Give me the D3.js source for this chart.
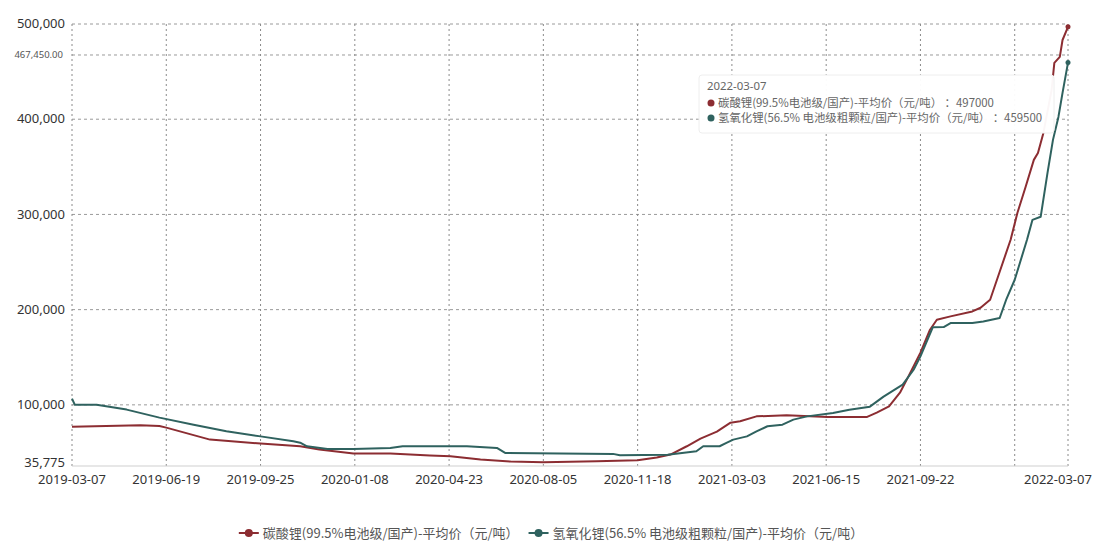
<!DOCTYPE html>
<html>
<head>
<meta charset="utf-8">
<script src="https://cdn.jsdelivr.net/npm/d3@7"></script>
<style>
  body { margin: 0; background: #fff; }
  text { font-family: "Noto Sans", "Noto Sans CJK SC", sans-serif; }
</style>
</head>
<body>
<div id="chart"></div>
<script>
// trading-day index along the category axis (0 = 2019-03-07, 729 = 2022-03-07)
const xTickIndex = [0, 69, 138, 207, 276, 345, 414, 483, 552, 621, 690, 729];
const xTickLabels = ["2019-03-07", "2019-06-19", "2019-09-25", "2020-01-08", "2020-04-23",
  "2020-08-05", "2020-11-18", "2021-03-03", "2021-06-15", "2021-09-22", "", "2022-03-07"];
const yTicks = [35775, 100000, 200000, 300000, 400000, 500000];

const seriesNames = ["碳酸锂(99.5%电池级/国产)-平均价（元/吨）", "氢氧化锂(56.5% 电池级粗颗粒/国产)-平均价（元/吨）"];
const seriesColors = ["#8c2d32", "#2f625f"];

const carbonateDay = [0, 50, 64, 69, 101, 138, 167, 181, 206, 233, 262, 277, 299, 321, 345, 384, 414, 428, 438, 450,
  460, 472, 482, 489, 501, 523, 553, 582, 589, 598, 606, 611, 621, 628, 633, 643, 659, 665, 672, 679,
  687, 692, 698, 704, 707, 711, 717, 719, 723, 725, 729];
const carbonateValue = [77100, 78600, 77700, 76100, 63500, 59300, 56500, 53000, 48800, 48800, 46700, 46000, 42500, 40400, 39700, 40700, 41800, 44600, 47800, 56500,
  64500, 71900, 81300, 82700, 87900, 89000, 87300, 87300, 91800, 98400, 112800, 126500, 154800, 178900, 189400, 192900, 198100, 202000, 210400, 239800,
  273400, 301700, 329000, 357300, 364600, 385600, 430700, 459100, 465400, 483200, 497000];

const hydroxideDay = [0, 2, 18, 40, 64, 89, 113, 138, 162, 167, 172, 187, 206, 233, 242, 289, 311, 317, 396, 401,
  436, 457, 462, 474, 479, 484, 494, 501, 509, 520, 528, 538, 557, 569, 584, 594, 608, 616, 621, 630,
  638, 643, 659, 667, 679, 684, 690, 699, 703, 709, 714, 718, 722, 725, 729];
const hydroxideValue = [106500, 100200, 100200, 95000, 86600, 79200, 72200, 66900, 61700, 60300, 56500, 53700, 53700, 54800, 56500, 56500, 54800, 49500, 48500, 47000,
  47700, 51200, 56500, 56500, 60000, 63500, 66900, 72200, 77500, 79200, 84500, 87900, 91500, 94900, 98100, 108600, 121200, 136900, 150900, 181500,
  181700, 185900, 185900, 187600, 191200, 211400, 231400, 273400, 294300, 297500, 343700, 378300, 402400, 427600, 459500];

const tooltipDate = "2022-03-07";
const tooltipValues = [497000, 459500];
const pointerValue = 467450;

const width = 1094, height = 542;
const margin = { top: 24, right: 26, bottom: 76, left: 72 };

const svg = d3.select("#chart").append("svg")
  .attr("width", width)
  .attr("height", height);

const x = d3.scaleLinear().domain([0, 729]).range([margin.left, width - margin.right]);
const y = d3.scaleLinear().domain([35775, 500000]).range([height - margin.bottom, margin.top]);

// horizontal grid
svg.append("g")
  .selectAll("line")
  .data(yTicks.slice(1).concat([pointerValue]))
  .enter().append("line")
  .attr("x1", x(0)).attr("x2", x(729))
  .attr("y1", d => y(d)).attr("y2", d => y(d))
  .attr("stroke", "#9a9a9a")
  .attr("stroke-width", 1)
  .attr("stroke-dasharray", "3,3");

// vertical grid
svg.append("g")
  .selectAll("line")
  .data(xTickIndex)
  .enter().append("line")
  .attr("x1", d => x(d)).attr("x2", d => x(d))
  .attr("y1", y(500000)).attr("y2", y(35775))
  .attr("stroke", "#8a8a8a")
  .attr("stroke-width", 1)
  .attr("stroke-dasharray", "2,3");

// x axis baseline
svg.append("line")
  .attr("x1", x(0)).attr("x2", x(729))
  .attr("y1", y(35775)).attr("y2", y(35775))
  .attr("stroke", "#cfcfcf");

// y labels
svg.append("g")
  .selectAll("text")
  .data(yTicks)
  .enter().append("text")
  .attr("x", margin.left - 7)
  .attr("y", d => y(d) - (d === 35775 ? 3 : 0))
  .attr("dy", "0.32em")
  .attr("text-anchor", "end")
  .attr("font-size", 13)
  .attr("fill", "#333")
  .text(d3.format(","));

svg.append("text")
  .attr("x", margin.left - 9)
  .attr("y", y(pointerValue))
  .attr("dy", "0.35em")
  .attr("text-anchor", "end")
  .attr("font-size", 9.5)
  .attr("fill", "#555")
  .text(d3.format(",.2f")(pointerValue));

// x labels
svg.append("g")
  .selectAll("text")
  .data(xTickIndex)
  .enter().append("text")
  .attr("x", (d, i) => x(d) + (i === xTickIndex.length - 1 ? -10 : 0))
  .attr("y", y(35775) + 18)
  .attr("text-anchor", "middle")
  .attr("font-size", 13)
  .attr("fill", "#333")
  .text((d, i) => xTickLabels[i]);

// lines
const line = d3.line()
  .x(d => x(d[0]))
  .y(d => y(d[1]));

const series = [
  d3.zip(carbonateDay, carbonateValue),
  d3.zip(hydroxideDay, hydroxideValue)
];

svg.append("g")
  .selectAll("path")
  .data(series)
  .enter().append("path")
  .attr("d", line)
  .attr("fill", "none")
  .attr("stroke", (d, i) => seriesColors[i])
  .attr("stroke-width", 2)
  .attr("stroke-linejoin", "round");

// end points
svg.append("g")
  .selectAll("circle")
  .data(series)
  .enter().append("circle")
  .attr("cx", d => x(d[d.length - 1][0]))
  .attr("cy", d => y(d[d.length - 1][1]))
  .attr("r", 2.5)
  .attr("fill", (d, i) => seriesColors[i]);

// tooltip
const tip = svg.append("g").attr("transform", "translate(699,75)");
tip.append("rect")
  .attr("width", 355).attr("height", 58)
  .attr("rx", 3)
  .attr("fill", "#fff")
  .attr("fill-opacity", 0.96)
  .attr("stroke", "#eee");
tip.append("text")
  .attr("x", 8).attr("y", 15)
  .attr("font-size", 11.4)
  .attr("fill", "#666")
  .text(tooltipDate);
tooltipValues.forEach((v, i) => {
  tip.append("circle")
    .attr("cx", 12).attr("cy", 28 + i * 15)
    .attr("r", 3.5)
    .attr("fill", seriesColors[i]);
  tip.append("text")
    .attr("x", 19).attr("y", 28 + i * 15)
    .attr("dy", "0.35em")
    .attr("font-size", 11.4)
    .attr("fill", "#666")
    .style("font-family", "'Noto Sans CJK SC', sans-serif")
    .text(seriesNames[i] + " ：" + v);
});

// legend, centred under the plot
const legend = svg.append("g");
let lx = 0;
seriesNames.forEach((name, i) => {
  const g = legend.append("g").attr("transform", `translate(${lx},0)`);
  g.append("line")
    .attr("x1", 0).attr("x2", 20)
    .attr("stroke", seriesColors[i]).attr("stroke-width", 2);
  g.append("circle")
    .attr("cx", 10).attr("r", 4)
    .attr("fill", seriesColors[i]);
  const t = g.append("text")
    .attr("x", 24)
    .attr("dy", "0.35em")
    .attr("font-size", 13)
    .attr("fill", "#555")
    .style("font-family", "'Noto Sans CJK SC', sans-serif")
    .text(name);
  lx += 24 + t.node().getComputedTextLength() + 10;
});
legend.attr("transform", `translate(${551 - (lx - 10) / 2},533)`);
</script>
</body>
</html>
